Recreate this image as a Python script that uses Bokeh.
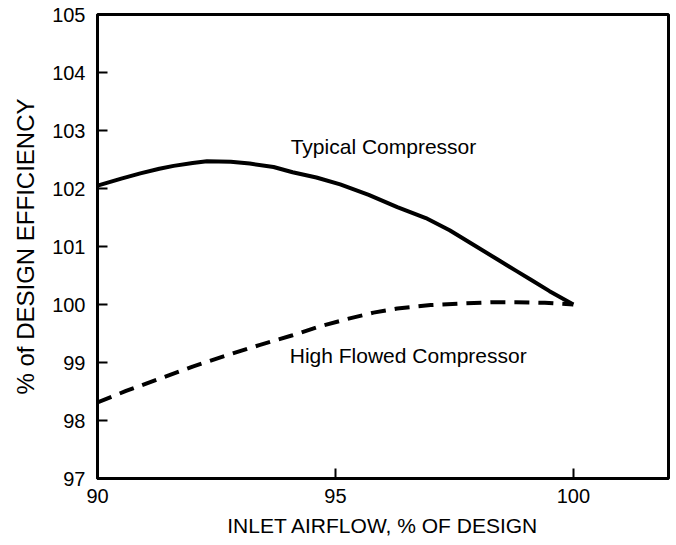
from bokeh.plotting import figure
from bokeh.models import FixedTicker, Range1d, Label
from bokeh.embed import file_html
from bokeh.resources import INLINE

# Data
airflow_typical = [90.0, 90.5, 90.9, 91.3, 91.6, 92.0, 92.3, 92.8, 93.2, 93.7, 94.1, 94.6,
                   95.1, 95.7, 96.3, 96.9, 97.4, 97.9, 98.4, 98.8, 99.1, 99.5, 100.0]
eff_typical = [102.05, 102.17, 102.26, 102.34, 102.39, 102.44, 102.47, 102.46, 102.43, 102.37,
               102.28, 102.19, 102.07, 101.89, 101.68, 101.49, 101.28, 101.03, 100.78, 100.58,
               100.43, 100.23, 100.0]

airflow_high = [90.0, 90.6, 91.3, 92.0, 92.7, 93.4, 94.1, 94.7, 95.3, 95.8, 96.3, 97.0,
                97.7, 98.3, 98.8, 99.4, 100.0]
eff_high = [98.31, 98.51, 98.72, 98.93, 99.12, 99.30, 99.47, 99.63, 99.76, 99.86, 99.93,
            99.99, 100.02, 100.04, 100.04, 100.03, 100.0]

x_ticks = [90, 95, 100]
y_ticks = [97, 98, 99, 100, 101, 102, 103, 104, 105]

FONT = "Liberation Sans"

p = figure(width=670, height=540, output_backend="svg", toolbar_location=None,
           x_range=Range1d(90, 102), y_range=Range1d(97, 105),
           min_border_left=97, min_border_top=14, min_border_right=2, min_border_bottom=10)
p.frame_width = 571
p.frame_height = 464

p.grid.visible = False
p.outline_line_color = "black"
p.outline_line_width = 3
p.background_fill_color = "white"
p.border_fill_color = "white"

p.xaxis.ticker = FixedTicker(ticks=x_ticks)
p.yaxis.ticker = FixedTicker(ticks=y_ticks)
for ax in (p.xaxis[0], p.yaxis[0]):
    ax.axis_line_width = 3
    ax.axis_line_color = "black"
    ax.major_tick_in = 10
    ax.major_tick_out = 0
    ax.major_tick_line_width = 2
    ax.minor_tick_line_color = None
    ax.major_label_text_font = FONT
    ax.major_label_text_font_size = "20px"
    ax.major_label_text_color = "black"
    ax.axis_label_text_font = FONT
    ax.axis_label_text_font_style = "normal"
    ax.axis_label_text_color = "black"

p.xaxis.axis_label = "INLET AIRFLOW, % OF DESIGN"
p.yaxis.axis_label = "% of DESIGN EFFICIENCY"
p.xaxis.axis_label_text_font_size = "21px"
p.yaxis.axis_label_text_font_size = "24px"
p.yaxis.major_label_standoff = 12
p.yaxis.axis_label_standoff = 10
p.xaxis.major_label_standoff = 10
p.xaxis.axis_label_standoff = 8

p.line(airflow_typical, eff_typical, line_color="black", line_width=4)
p.line(airflow_high, eff_high, line_color="black", line_width=4, line_dash="15 9")

p.add_layout(Label(x=94.06, y=102.73, text="Typical Compressor", text_font=FONT,
                   text_font_size="21px", text_color="black", text_baseline="alphabetic"))
p.add_layout(Label(x=94.04, y=99.12, text="High Flowed Compressor", text_font=FONT,
                   text_font_size="21px", text_color="black", text_baseline="alphabetic"))

open("out.html", "w").write(file_html(p, INLINE))
